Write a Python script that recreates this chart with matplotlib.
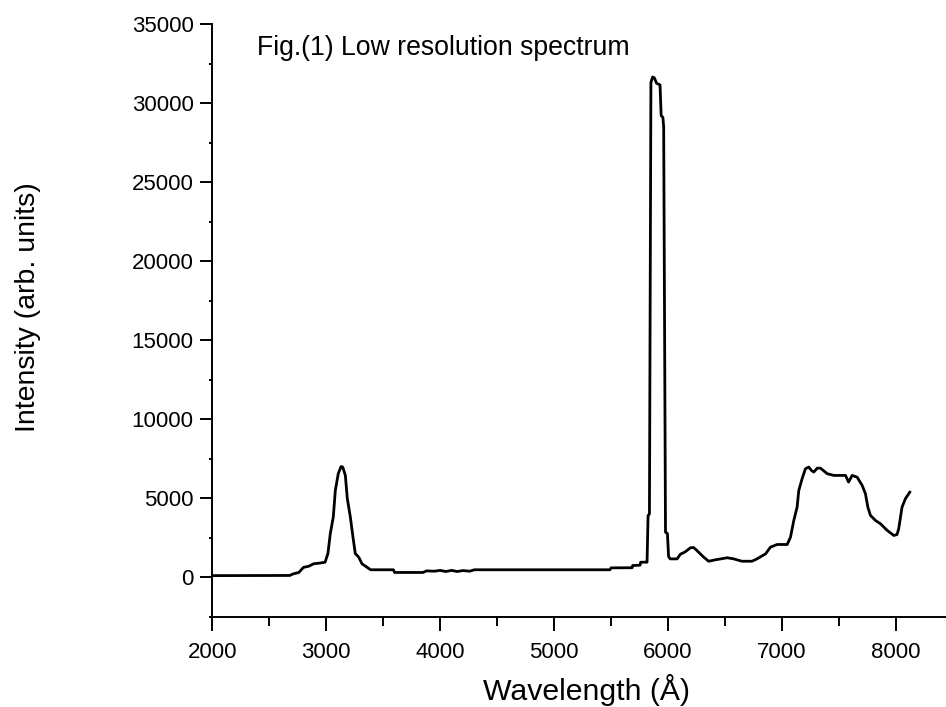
import matplotlib.pyplot as plt
from matplotlib.ticker import MultipleLocator

plt.rcParams["font.family"] = ["Liberation Sans", "DejaVu Sans"]

# spectrum (Angstrom, arb. units)
wavelength = [
    2000, 2680, 2710, 2760, 2800, 2850, 2890, 2950, 2990, 3015,
    3036, 3062, 3080, 3106, 3130, 3145, 3168, 3185, 3212, 3235,
    3255, 3285, 3314, 3358, 3390, 3590, 3600, 3850, 3880, 3950,
    4000, 4050, 4100, 4150, 4200, 4260, 4300, 5490, 5500, 5685,
    5690, 5755, 5760, 5816, 5825, 5837, 5850, 5865, 5880, 5900,
    5930, 5940, 5955, 5962, 5978, 5995, 6005, 6020, 6080, 6108,
    6150, 6196, 6225, 6255, 6313, 6357, 6416, 6519, 6576, 6649,
    6737, 6781, 6857, 6899, 6958, 7046, 7075, 7104, 7133, 7148,
    7177, 7206, 7235, 7260, 7279, 7310, 7338, 7397, 7455, 7558,
    7585, 7616, 7660, 7704, 7733, 7754, 7777, 7821, 7865, 7924,
    7982, 8010, 8025, 8054, 8084, 8122,
]
intensity = [
    100, 110, 210, 300, 620, 700, 850, 900, 950, 1500,
    2770, 3800, 5490, 6560, 7000, 6970, 6440, 4980, 3800, 2530,
    1500, 1270, 850, 630, 470, 470, 300, 300, 400, 380,
    430, 360, 430, 360, 420, 380, 470, 470, 590, 600,
    740, 760, 950, 950, 3900, 4000, 31300, 31650, 31600, 31250,
    31150, 29200, 29100, 28500, 2850, 2760, 1300, 1160, 1160, 1450,
    1600, 1860, 1880, 1680, 1270, 1010, 1100, 1230, 1160, 1010,
    1010, 1160, 1480, 1900, 2070, 2070, 2530, 3590, 4430, 5490,
    6230, 6860, 6970, 6750, 6650, 6900, 6900, 6550, 6440, 6440,
    6020, 6440, 6330, 5810, 5280, 4430, 3910, 3590, 3380, 2960,
    2640, 2700, 3070, 4430, 4970, 5380,
]

fig = plt.figure(figsize=(9.46, 7.07), dpi=100)
ax = fig.add_axes([0.2244, 0.1277, 0.7756, 0.8383])

ax.plot(wavelength, intensity, color="black", linewidth=2.0)

ax.set_xlim(2000, 8440)
ax.set_ylim(-2500, 35000)
ax.xaxis.set_major_locator(MultipleLocator(1000))
ax.xaxis.set_minor_locator(MultipleLocator(500))
ax.yaxis.set_major_locator(MultipleLocator(5000))
ax.yaxis.set_minor_locator(MultipleLocator(2500))

ax.spines["top"].set_visible(False)
ax.spines["right"].set_visible(False)
for side in ("left", "bottom"):
    ax.spines[side].set_linewidth(1.4)

ax.tick_params(axis="x", which="major", direction="out", length=10, width=1.4, pad=8, labelsize=16)
ax.tick_params(axis="x", which="minor", direction="out", length=6.5, width=1.4)
ax.tick_params(axis="y", which="major", direction="out", length=8.4, width=1.4, pad=5, labelsize=16)
ax.tick_params(axis="y", which="minor", direction="out", length=2.2, width=1.4)

ax.set_xlabel("Wavelength (\u00c5)", fontsize=21.8)
ax.xaxis.set_label_coords(0.5095, -0.096)
ax.set_ylabel("Intensity (arb. units)", fontsize=20.5)
ax.yaxis.set_label_coords(-0.2335, 0.5225)

ax.text(0.061, 0.981, "Fig.(1) Low resolution spectrum", transform=ax.transAxes,
        ha="left", va="top", fontsize=19.2)

fig.savefig("out.png", dpi=100)
